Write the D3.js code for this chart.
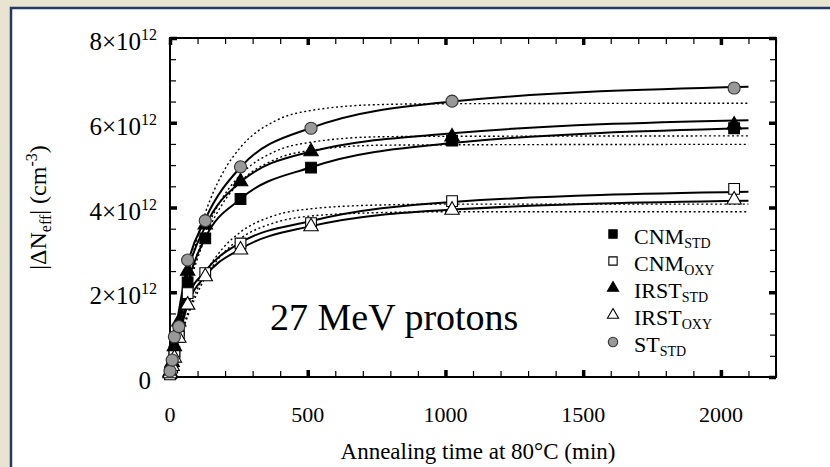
<!DOCTYPE html>
<html lang="en">
<head>
<meta charset="utf-8" />
<title>27 MeV protons - annealing</title>
<script src="https://d3js.org/d3.v7.min.js"></script>
<style>
  body { margin: 0; background: #e8e4d0; }
  svg { display: block; font-family: "Liberation Serif", "Times New Roman", serif; }
</style>
</head>
<body>
<svg id="chart"></svg>
<script>
// annealing times (min) of the measured points
const times = [0, 8, 16, 32, 64, 128, 256, 512, 1024, 2048];
// |dNeff| in units of 1e12 cm^-3
const cnmStd  = [0.10, 0.30, 0.60, 1.10, 2.23, 3.27, 4.20, 4.94, 5.58, 5.87];
const cnmOxy  = [0.06, 0.22, 0.55, 0.95, 1.98, 2.45, 3.15, 3.63, 4.15, 4.44];
const irstStd = [0.12, 0.35, 0.72, 1.30, 2.50, 3.59, 4.61, 5.32, 5.67, 5.95];
const irstOxy = [0.08, 0.25, 0.45, 0.92, 1.70, 2.37, 3.00, 3.55, 3.94, 4.18];
const stStd   = [0.14, 0.40, 0.95, 1.19, 2.76, 3.69, 4.96, 5.87, 6.51, 6.82];

// solid fit curves
const fitTimes   = [0, 16, 32, 64, 128, 256, 512, 1024, 2100];
const cnmStdFit  = [0, 0.60, 1.15, 2.20, 3.28, 4.20, 4.95, 5.52, 5.87];
const cnmOxyFit  = [0, 0.50, 1.00, 1.85, 2.50, 3.17, 3.68, 4.13, 4.37];
const irstStdFit = [0, 0.75, 1.35, 2.45, 3.55, 4.60, 5.32, 5.75, 6.06];
const irstOxyFit = [0, 0.45, 0.92, 1.70, 2.38, 3.02, 3.56, 3.95, 4.16];
const stStdFit   = [0, 0.90, 1.55, 2.65, 3.72, 4.95, 5.88, 6.50, 6.85];

// dotted fit curves
const dotTimes   = [0, 32, 64, 128, 192, 256, 384, 512, 768, 1024, 2100];
const cnmStdDot  = [0, 1.12, 2.01, 3.29, 4.10, 4.61, 5.14, 5.35, 5.47, 5.48, 5.49];
const cnmOxyDot  = [0, 0.83, 1.50, 2.44, 3.04, 3.42, 3.82, 3.97, 4.06, 4.08, 4.08];
const irstStdDot = [0, 1.16, 2.09, 3.41, 4.24, 4.77, 5.33, 5.54, 5.67, 5.68, 5.69];
const irstOxyDot = [0, 0.80, 1.43, 2.34, 2.91, 3.27, 3.65, 3.80, 3.88, 3.90, 3.90];
const stStdDot   = [0, 1.32, 2.37, 3.87, 4.82, 5.42, 6.05, 6.29, 6.43, 6.45, 6.46];

const seriesNames = ["CNM", "CNM", "IRST", "IRST", "ST"];
const seriesSubs  = ["STD", "OXY", "STD", "OXY", "STD"];
const yTicks = [0, 2, 4, 6, 8];
const xTicks = [0, 500, 1000, 1500, 2000];

const series = [
  { name: seriesNames[0], sub: seriesSubs[0], shape: "square",   fill: "#000", values: cnmStd,  fit: cnmStdFit,  dot: cnmStdDot },
  { name: seriesNames[1], sub: seriesSubs[1], shape: "square",   fill: "#fff", values: cnmOxy,  fit: cnmOxyFit,  dot: cnmOxyDot },
  { name: seriesNames[2], sub: seriesSubs[2], shape: "triangle", fill: "#000", values: irstStd, fit: irstStdFit, dot: irstStdDot },
  { name: seriesNames[3], sub: seriesSubs[3], shape: "triangle", fill: "#fff", values: irstOxy, fit: irstOxyFit, dot: irstOxyDot },
  { name: seriesNames[4], sub: seriesSubs[4], shape: "circle",   fill: "#999", values: stStd,   fit: stStdFit,   dot: stStdDot },
];

const W = 830, H = 467;
const margin = { top: 38, left: 170, right: 54, bottom: 90 };
const svg = d3.select("#chart").attr("width", W).attr("height", H);

// white panel with navy border
svg.append("rect").attr("x", 11).attr("y", 8).attr("width", W).attr("height", H)
  .attr("fill", "#fff").attr("stroke", "#243a66").attr("stroke-width", 2.5);

const x = d3.scaleLinear().domain([0, 2200]).range([margin.left, W - margin.right]);
const y = d3.scaleLinear().domain([0, 8]).range([H - margin.bottom, margin.top]);

const g = svg.append("g");

// ticks (inward) on all four sides
const xMinor = d3.range(0, 2201, 100);
const yMinor = d3.range(0, 8.01, 0.5);
function tickAxes(axis, tr) {
  const a = g.append("g").attr("transform", tr).call(axis);
  a.select(".domain").remove();
  a.selectAll("text").remove();
  return a;
}
[[d3.axisBottom, `translate(0,${y(0)})`], [d3.axisTop, `translate(0,${y(8)})`]].forEach(([f, tr]) => {
  tickAxes(f(x).tickValues(xMinor).tickSize(-6), tr).selectAll("line").attr("stroke-width", 1.2);
  tickAxes(f(x).tickValues(xTicks).tickSize(-7), tr).selectAll("line").attr("stroke-width", 3.5);
});
[[d3.axisLeft, `translate(${x(0)},0)`], [d3.axisRight, `translate(${x(2200)},0)`]].forEach(([f, tr]) => {
  tickAxes(f(y).tickValues(yMinor).tickSize(-6), tr).selectAll("line").attr("stroke-width", 1.2);
  tickAxes(f(y).tickValues(yTicks).tickSize(-7), tr).selectAll("line").attr("stroke-width", 3.5);
});

// frame
g.append("rect").attr("x", x(0)).attr("y", y(8)).attr("width", x(2200) - x(0)).attr("height", y(0) - y(8))
  .attr("fill", "none").attr("stroke", "#000").attr("stroke-width", 2);

// tick labels
g.selectAll(".xlab").data(xTicks).join("text").attr("class", "xlab")
  .attr("x", d => x(d)).attr("y", 422).attr("text-anchor", "middle")
  .attr("font-size", 22).text(d => d);

g.selectAll(".ylab").data(yTicks).join("text").attr("class", "ylab")
  .attr("x", d => d === 0 ? 151 : 157).attr("y", d => y(d) + 12).attr("text-anchor", "end")
  .attr("font-size", 25)
  .each(function (d) {
    const t = d3.select(this);
    if (d === 0) { t.text("0"); return; }
    t.append("tspan").text(`${d}×10`);
    t.append("tspan").attr("dy", -10).attr("font-size", 16).text("12");
  });

// axis titles
svg.append("text").attr("x", 478).attr("y", 459).attr("text-anchor", "middle").attr("font-size", 23)
  .text("Annealing time at 80°C (min)");

const yt = svg.append("text").attr("transform", `translate(46,${(y(0) + y(8)) / 2}) rotate(-90)`)
  .attr("text-anchor", "middle").attr("font-size", 24);
yt.append("tspan").text("|ΔN");
yt.append("tspan").attr("dy", 5).attr("font-size", 16).text("eff");
yt.append("tspan").attr("dy", -5).text("| (cm");
yt.append("tspan").attr("dy", -9).attr("font-size", 16).text("-3");
yt.append("tspan").attr("dy", 9).text(")");

// fit curves
const line = d3.line().x(d => x(d[0])).y(d => y(d[1])).curve(d3.curveMonotoneX);
series.forEach(s => {
  g.append("path").datum(dotTimes.map((t, i) => [t, s.dot[i]])).attr("d", line)
    .attr("fill", "none").attr("stroke", "#000").attr("stroke-width", 1.4).attr("stroke-dasharray", "2,2.6");
});
series.forEach(s => {
  g.append("path").datum(fitTimes.map((t, i) => [t, s.fit[i]])).attr("d", line)
    .attr("fill", "none").attr("stroke", "#000").attr("stroke-width", 2);
});

// markers
const symbolFor = { square: d3.symbolSquare, triangle: d3.symbolTriangle, circle: d3.symbolCircle };
const sizeFor = { square: 115, triangle: 90, circle: 115 };
function marker(sel, s, scale) {
  return sel.attr("d", d3.symbol().type(symbolFor[s.shape]).size(sizeFor[s.shape] * scale))
    .attr("fill", s.fill).attr("stroke", s.shape === "circle" ? "#333" : "#000").attr("stroke-width", 1.1);
}
series.forEach(s => {
  g.append("g").selectAll("path").data(times.map((t, i) => [t, s.values[i]])).join("path")
    .attr("transform", d => `translate(${x(d[0])},${y(d[1])})`)
    .call(sel => marker(sel, s, 1));
});

// annotation
svg.append("text").attr("x", 270).attr("y", 330).attr("font-size", 38).text("27 MeV protons");

// legend
const leg = svg.append("g");
series.forEach((s, i) => {
  const yy = 234 + i * 27;
  leg.append("path").attr("transform", `translate(613,${yy})`).call(sel => marker(sel, s, 0.6));
  const t = leg.append("text").attr("x", 634).attr("y", yy + 10).attr("font-size", 22);
  t.append("tspan").text(s.name);
  t.append("tspan").attr("dy", 4).attr("font-size", 14).text(s.sub);
});
</script>
</body>
</html>
